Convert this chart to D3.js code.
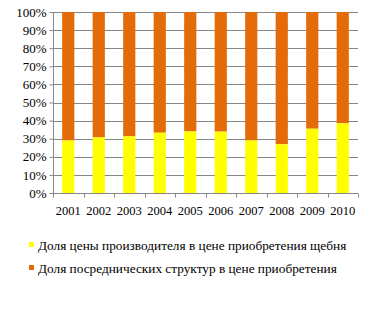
<!DOCTYPE html>
<html>
<head>
<meta charset="UTF-8">
<script src="https://d3js.org/d3.v7.min.js"></script>
<style>
  body { margin: 0; background: #fff; }
</style>
</head>
<body>
<svg width="390" height="313"></svg>
<script>
  const years = ["2001", "2002", "2003", "2004", "2005", "2006", "2007", "2008", "2009", "2010"];
  const producerShare = [29, 30.7, 31.3, 33.3, 34, 33.9, 29, 26.9, 35.5, 38.5];
  const seriesNames = [
    "Доля цены производителя в цене приобретения щебня",
    "Доля посреднических структур в цене приобретения"
  ];
  const seriesColors = ["#FFFF00", "#E36C09"];
  const yTicks = [0, 10, 20, 30, 40, 50, 60, 70, 80, 90, 100];

  const svg = d3.select("svg");
  const plotL = 53, plotR = 358, plotT = 12, plotB = 193;
  const serif = "Liberation Serif";

  const x = d3.scaleBand().domain(years).range([plotL, plotR]).paddingInner(0.6).paddingOuter(0.3);
  const y = d3.scaleLinear().domain([0, 100]).range([plotB, plotT]);

  // gridlines
  svg.append("g").selectAll("line")
    .data(yTicks.slice(1))
    .enter().append("line")
    .attr("x1", plotL).attr("x2", plotR)
    .attr("y1", d => Math.round(y(d)) + 0.5).attr("y2", d => Math.round(y(d)) + 0.5)
    .attr("stroke", "#868686");

  // stacked bars
  const rows = years.map((yr, i) => ({ year: yr, a: producerShare[i], b: 100 - producerShare[i] }));
  svg.append("g").selectAll("rect")
    .data(rows).enter().append("rect")
    .attr("x", d => x(d.year)).attr("width", x.bandwidth())
    .attr("y", d => y(100)).attr("height", d => y(d.a) - y(100))
    .attr("fill", seriesColors[1]);
  svg.append("g").selectAll("rect")
    .data(rows).enter().append("rect")
    .attr("x", d => x(d.year)).attr("width", x.bandwidth())
    .attr("y", d => y(d.a)).attr("height", d => y(0) - y(d.a))
    .attr("fill", seriesColors[0]);

  // y axis
  const yAxis = svg.append("g")
    .attr("transform", `translate(${plotL + 0.5},0)`)
    .call(d3.axisLeft(y).tickValues(yTicks).tickFormat(d => d + "%").tickSize(4).tickPadding(3));
  yAxis.selectAll("path, line").attr("stroke", "#868686");
  yAxis.select(".domain").attr("d", `M0,${plotT}V${plotB}`);
  yAxis.selectAll("text").attr("font-family", serif).attr("font-size", 13).attr("fill", "#000");

  // x axis
  const xAxis = svg.append("g")
    .attr("transform", `translate(0,${plotB + 0.5})`)
    .call(d3.axisBottom(x).tickSize(0).tickPadding(13));
  xAxis.select(".domain").attr("d", `M${plotL},0H${plotR}`).attr("stroke", "#868686");
  xAxis.selectAll("text").attr("font-family", serif).attr("font-size", 12.5).attr("fill", "#000");
  const step = x.step();
  xAxis.selectAll(".sep").data(d3.range(years.length + 1)).enter().append("line")
    .attr("x1", i => Math.round(plotL + i * step) + 0.5).attr("x2", i => Math.round(plotL + i * step) + 0.5)
    .attr("y1", 0).attr("y2", 4).attr("stroke", "#868686");

  // legend
  const legend = svg.append("g").selectAll("g")
    .data(seriesNames).enter().append("g")
    .attr("transform", (d, i) => `translate(29,${245 + i * 23})`);
  legend.append("rect").attr("x", 0).attr("y", -3).attr("width", 5).attr("height", 5)
    .attr("fill", (d, i) => seriesColors[i]);
  legend.append("text").attr("x", 9).attr("y", 0).attr("dy", "0.35em")
    .attr("font-family", serif).attr("font-size", 13.3).attr("fill", "#000")
    .text(d => d);
</script>
</body>
</html>
